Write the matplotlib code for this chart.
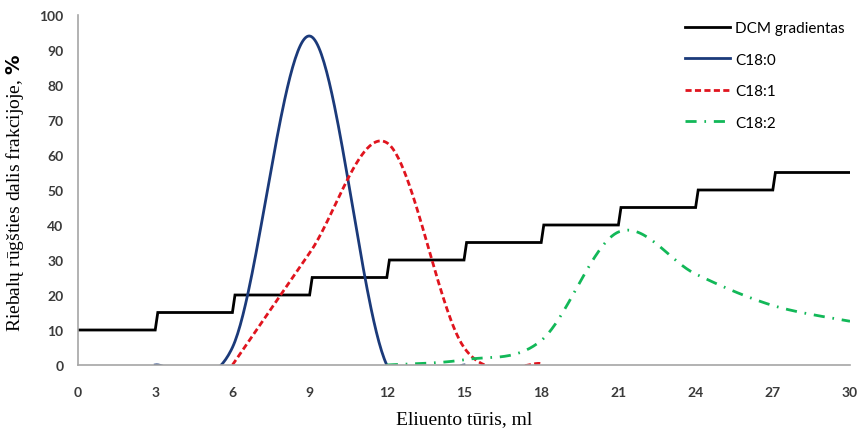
import numpy as np
import matplotlib
matplotlib.use("Agg")
import matplotlib.pyplot as plt

# Eluent volume (ml) at each sampling point
vol_c180 = [3, 6, 9, 12, 15]
c180 = [0, 5, 94, 0, 0]

vol_c181 = [6, 9, 12, 15, 18]
c181 = [0, 32, 63.5, 5, 0.4]

vol_c182 = [12, 15, 18, 21, 24, 27, 30]
c182 = [0, 1.5, 7, 38, 26, 17, 12.5]

# DCM gradient steps (ml, %)
grad_vol = [0, 3, 3.1, 6, 6.1, 9, 9.1, 12, 12.1, 15, 15.1, 18, 18.1, 21, 21.1, 24, 24.1, 27, 27.1, 30]
grad_pct = [10, 10, 15, 15, 20, 20, 25, 25, 30, 30, 35, 35, 40, 40, 45, 45, 50, 50, 55, 55]

x_ticks = list(range(0, 31, 3))
y_ticks = list(range(0, 101, 10))


def smooth(xs, ys, n=60):
    """Parametric cubic Bezier smoothing through the given points."""
    p = np.column_stack([xs, ys]).astype(float)
    out = []
    m = len(p)
    for i in range(m - 1):
        p0 = p[i]
        p3 = p[i + 1]
        prev = p[i - 1] if i > 0 else p[i]
        nxt = p[i + 2] if i + 2 < m else p[i + 1]
        c1 = p0 + (p3 - prev) / 6.0
        c2 = p3 - (nxt - p0) / 6.0
        t = np.linspace(0, 1, n)[:, None]
        seg = ((1 - t) ** 3) * p0 + 3 * ((1 - t) ** 2) * t * c1 + 3 * (1 - t) * t ** 2 * c2 + t ** 3 * p3
        out.append(seg if i == 0 else seg[1:])
    s = np.vstack(out)
    return s[:, 0], s[:, 1]


fig = plt.figure(figsize=(8.64, 4.31), dpi=100)
ax = fig.add_axes([0.0903, 0.1508, 0.8935, 0.8121])

tick_font = dict(family=["Lato", "DejaVu Sans"], size=10, weight="bold", color="#3a3a3a")

ax.plot(grad_vol, grad_pct, color="black", lw=2.0, label="DCM gradientas", solid_joinstyle="miter")
x, y = smooth(vol_c180, c180)
ax.plot(x, y, color="#1B3A7A", lw=2.0, label="C18:0")
x, y = smooth(vol_c181, c181)
ax.plot(x, y, color="#E0141E", lw=2.0, ls=(0, (2.2, 1.2)), label="C18:1")
x, y = smooth(vol_c182, c182)
ax.plot(x, y, color="#12B858", lw=2.0, ls=(0, (4, 2.8, 0.6, 2.8)), label="C18:2")

ax.set_xlim(0, 30)
ax.set_ylim(0, 100)
ax.set_xticks(x_ticks)
ax.set_yticks(y_ticks)
ax.set_xticklabels([str(v) for v in x_ticks], fontdict=tick_font)
ax.set_yticklabels([str(v) for v in y_ticks], fontdict=tick_font)
ax.tick_params(axis="both", length=0)
ax.tick_params(axis="x", pad=15)
ax.tick_params(axis="y", pad=10.5)

for side in ("top", "right"):
    ax.spines[side].set_visible(False)
for side in ("left", "bottom"):
    ax.spines[side].set_color("#a6a6a6")
    ax.spines[side].set_linewidth(1.2)

ax.set_xlabel("Eliuento tūris, ml", family="Liberation Serif", size=14)
ax.set_ylabel("Riebalų rūgšties dalis frakcijoje, $\\mathbf{\\%}$", family="Liberation Serif", size=14)
ax.xaxis.set_label_coords(0.5, -0.13)
ax.yaxis.set_label_coords(-0.067, 0.494)

leg = ax.legend(loc="upper left", bbox_to_anchor=(685 / 864, 1 - 22 / 431),
                bbox_transform=fig.transFigure, frameon=False, borderpad=0, borderaxespad=0,
                prop=dict(family=["Lato", "DejaVu Sans"], size=11),
                handlelength=2.95, labelspacing=1.15, handletextpad=0.35)

fig.savefig("out.png", dpi=100)
